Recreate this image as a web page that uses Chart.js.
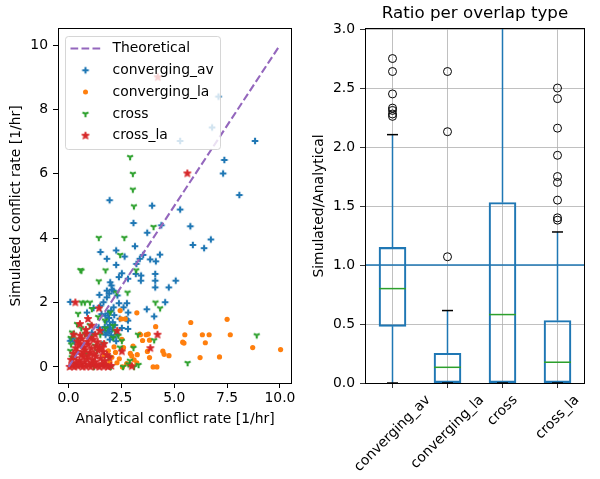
<!DOCTYPE html>
<html>
<head>
<meta charset="utf-8">
<script src="https://cdn.jsdelivr.net/npm/chart.js@4/dist/chart.umd.min.js"></script>
<style>
html, body { margin: 0; padding: 0; background: #fff; }
.panel { position: absolute; top: 0; width: 300px; height: 479px; }
#left { left: 0; }
#right { left: 300px; }
</style>
</head>
<body>
<div class="panel" id="left"><canvas id="scatterChart" width="300" height="479"></canvas></div>
<div class="panel" id="right"><canvas id="boxChart" width="300" height="479"></canvas></div>
<script>
// --- scatter data: [analytical, simulated] per overlap type ---
const theoretical = [[0, 0], [10, 10]];

const convergingAv = [
  [7.09, 8.40], [6.79, 7.44], [5.28, 7.02], [8.82, 7.02], [7.37, 6.43], [7.31, 6.01], [8.08, 5.34],
  [1.94, 5.18], [3.95, 5.01], [5.28, 4.89], [3.07, 4.47], [4.39, 4.40], [5.76, 4.37], [3.72, 4.17],
  [6.73, 3.96], [5.88, 3.79], [6.41, 3.69], [1.51, 3.57], [1.81, 3.36], [2.25, 3.62], [2.25, 3.17],
  [2.65, 3.43], [3.14, 3.75], [3.37, 3.36], [3.53, 3.48], [3.21, 3.20], [3.86, 3.34], [4.13, 3.28],
  [4.32, 3.49], [2.52, 2.91], [3.18, 2.89], [3.43, 2.84], [4.10, 2.89], [4.10, 2.68], [3.42, 2.68],
  [4.10, 2.47], [4.74, 2.47], [5.07, 2.68], [2.81, 2.74], [2.38, 2.79], [1.97, 2.63], [2.03, 2.53],
  [1.81, 2.37], [2.13, 2.37], [1.46, 2.24], [1.81, 2.16], [2.31, 2.22], [2.38, 1.98], [2.76, 1.98],
  [2.60, 1.85], [2.13, 1.85], [1.65, 2.01], [4.57, 2.01], [3.70, 1.79], [4.05, 1.57], [2.81, 1.44],
  [2.81, 1.18], [0.08, 2.02], [0.87, 1.69], [1.18, 1.83], [1.50, 1.90], [1.92, 2.28], [2.05, 2.40],
  [1.75, 1.00], [1.80, 1.06], [1.86, 1.21], [1.92, 1.10], [1.96, 1.31], [2.01, 0.98], [2.06, 1.16],
  [1.79, 1.41], [1.91, 1.52], [2.09, 1.39], [2.19, 1.30], [1.71, 1.24], [1.60, 1.12], [2.31, 1.01],
  [1.86, 1.66], [2.01, 1.75], [1.74, 1.59], [2.16, 1.61], [2.42, 1.50], [2.52, 1.21], [0.08, 0.81],
  [1.42, 1.23], [1.10, 1.07], [1.56, 1.64], [2.82, 1.69], [2.74, 1.49], [0.15, 0.88], [0.28, 0.78],
  [1.95, 0.85], [2.12, 0.92], [1.60, 0.70], [2.25, 0.80]
];

const convergingLa = [
  [3.23, 1.68], [5.78, 1.38], [7.50, 1.48], [5.50, 1.00], [6.33, 1.00], [6.65, 1.00], [7.65, 1.00],
  [5.40, 0.77], [5.46, 0.74], [6.47, 0.75], [8.71, 0.60], [10.03, 0.54], [7.14, 0.31], [6.22, 0.29],
  [4.46, 0.49], [4.52, 0.39], [4.75, 0.35], [4.00, 0.00], [4.18, 0.00], [4.12, 1.25], [3.40, 1.00],
  [3.67, 1.00], [3.50, 0.82], [3.83, 0.83], [3.73, 0.48], [3.83, 0.29], [2.68, 1.49], [2.48, 1.49],
  [2.44, 1.75], [2.52, 0.86], [2.99, 0.34], [2.92, 0.42], [3.23, 0.13], [2.29, 0.13], [2.22, 0.45],
  [3.37, 1.02], [3.77, 1.02], [2.96, 0.05], [3.10, 0.22], [3.25, 0.38], [1.88, 0.50], [2.05, 0.30],
  [2.60, 0.60], [2.75, 0.10], [2.55, 0.00], [1.70, 0.35], [2.15, 0.62], [3.05, 0.65], [1.95, 0.15],
  [2.40, 0.25]
];

const cross = [
  [2.91, 6.52], [3.04, 6.00], [3.04, 5.51], [3.09, 4.99], [4.02, 4.35], [1.43, 4.01], [2.64, 4.01],
  [2.44, 3.48], [0.56, 3.01], [0.61, 2.99], [1.75, 3.00], [3.20, 3.00], [1.43, 2.66], [2.79, 2.31],
  [2.27, 2.31], [0.61, 2.00], [0.77, 2.00], [1.01, 2.00], [4.11, 2.00], [4.33, 1.82], [4.05, 0.83],
  [3.28, 1.00], [3.07, 0.59], [5.63, 0.12], [8.90, 0.98], [3.10, 0.00], [0.45, 1.65], [0.40, 1.33],
  [1.97, 1.69], [1.72, 1.44], [2.11, 1.28], [0.16, 1.07], [0.10, 0.90], [0.12, 0.70], [0.08, 0.50],
  [0.15, 0.30], [0.25, 1.00], [0.45, 0.85], [0.77, 1.02], [1.09, 0.97], [1.25, 0.66], [2.11, 0.91],
  [2.43, 0.60], [2.52, 0.81], [2.36, 0.97], [2.58, 0.00], [2.90, 0.19], [2.83, 0.08], [3.31, 0.06],
  [1.10, 1.80], [1.50, 1.00], [1.35, 0.50], [1.90, 0.30], [1.65, 0.72], [1.00, 1.30], [0.60, 1.20],
  [1.20, 0.00], [2.00, 0.00], [1.40, 1.55], [0.30, 0.10], [1.75, 1.20], [2.20, 1.10], [0.85, 0.40]
];

const crossLa = [
  [4.22, 9.00], [5.62, 6.01], [0.32, 2.00], [1.44, 1.82], [4.21, 1.00], [3.87, 0.58], [2.99, 0.02],
  [2.52, 0.48], [2.30, 1.12], [0.92, 1.49], [0.82, 1.15], [0.55, 0.97], [0.54, 1.33], [1.09, 1.28],
  [1.48, 1.12], [0.85, 1.02], [0.54, 0.71], [1.01, 0.91],
  [0.05, 0.00], [0.18, 0.04], [0.27, 0.00], [0.36, 0.12], [0.44, 0.02], [0.57, 0.06], [0.66, 0.00],
  [0.74, 0.14], [0.83, 0.01], [0.96, 0.07], [1.04, 0.00], [1.16, 0.11], [1.27, 0.02], [1.33, 0.06],
  [1.46, 0.00], [1.58, 0.09], [1.66, 0.01], [1.77, 0.05], [1.86, 0.00], [2.02, 0.03],
  [0.12, 0.22], [0.31, 0.27], [0.52, 0.19], [0.69, 0.31], [0.88, 0.24], [1.12, 0.21], [1.29, 0.33],
  [1.52, 0.26], [1.71, 0.18], [1.93, 0.29],
  [0.22, 0.41], [0.42, 0.47], [0.61, 0.38], [0.79, 0.52], [1.02, 0.44], [1.21, 0.39], [1.39, 0.51],
  [1.63, 0.46], [1.82, 0.37],
  [0.33, 0.58], [0.49, 0.66], [0.72, 0.61], [0.93, 0.69], [1.08, 0.57], [1.31, 0.64], [1.47, 0.59],
  [1.68, 0.71], [0.41, 0.79], [0.63, 0.86], [0.89, 0.78], [1.17, 0.84], [1.38, 0.77], [0.24, 1.00],
  [1.26, 1.00], [0.70, 0.45], [0.95, 0.35], [1.25, 0.15], [0.50, 0.10], [1.60, 0.60]
];

const scatterXTicks = [0, 2.5, 5, 7.5, 10];
const scatterYTicks = [0, 2, 4, 6, 8, 10];

// --- boxplot data: simulated/analytical ratio ---
const boxLabels = ['converging_av', 'converging_la', 'cross', 'cross_la'];
const boxLow = [0, 0, 0, 0];
const boxQ1 = [0.48, 0, 0, 0];
const boxMedian = [0.80, 0.133, 0.58, 0.176];
const boxQ3 = [1.15, 0.252, 1.53, 0.53];
const boxHigh = [2.105, 0.614, 3.7, 1.28];
const boxOutliers = [
  [2.26, 2.28, 2.31, 2.33, 2.45, 2.64, 2.75],
  [1.07, 2.13, 2.64],
  [],
  [1.38, 1.40, 1.55, 1.70, 1.75, 1.93, 2.16, 2.41, 2.50]
];
const ratioTicks = [0, 0.5, 1, 1.5, 2, 2.5, 3];
const refRatio = 1.0;

const FONT = '"DejaVu Sans"';
Chart.defaults.font.family = FONT;
Chart.defaults.font.size = 13.9;
Chart.defaults.color = '#000';

const toXY = arr => arr.map(p => ({ x: p[0], y: p[1] }));

// markers die Chart.js niet heeft
function makeMarker(size, draw) {
  const c = document.createElement('canvas');
  c.width = size; c.height = size;
  const g = c.getContext('2d');
  g.translate(size / 2, size / 2);
  draw(g);
  return c;
}
const plusMarker = makeMarker(10, g => {
  g.strokeStyle = '#1f77b4'; g.lineWidth = 2.1;
  g.beginPath();
  g.moveTo(-3.3, 0); g.lineTo(3.3, 0);
  g.moveTo(0, -3.3); g.lineTo(0, 3.3);
  g.stroke();
});
const triMarker = makeMarker(10, g => {
  g.strokeStyle = '#2ca02c'; g.lineWidth = 2.1;
  g.beginPath();
  g.moveTo(0, 0); g.lineTo(0, 3.3);
  g.moveTo(0, 0); g.lineTo(-2.9, -1.7);
  g.moveTo(0, 0); g.lineTo(2.9, -1.7);
  g.stroke();
});
const starMarker = makeMarker(12, g => {
  g.fillStyle = '#d62728'; g.strokeStyle = '#d62728'; g.lineWidth = 1;
  g.beginPath();
  for (let k = 0; k < 10; k++) {
    const r = k % 2 ? 1.7 : 4;
    const a = -Math.PI / 2 + k * Math.PI / 5;
    g.lineTo(r * Math.cos(a), r * Math.sin(a));
  }
  g.closePath(); g.fill(); g.stroke();
});

// zwart kader rond het plotgebied
const frame = {
  id: 'frame',
  afterDraw(chart) {
    const { ctx, chartArea: a } = chart;
    ctx.save();
    ctx.strokeStyle = '#000';
    ctx.lineWidth = 1;
    const l = Math.round(a.left) + 0.5, t = Math.round(a.top) - 0.5;
    const r = Math.round(a.right) - 0.5, b = Math.round(a.bottom) + 0.5;
    ctx.strokeRect(l, t, r - l, b - t);
    ctx.restore();
  }
};

// legenda zoals matplotlib (linksboven, half doorzichtig)
const scatterLegend = {
  id: 'scatterLegend',
  afterDatasetsDraw(chart) {
    const { ctx, chartArea: a } = chart;
    const left = a.left + 7.5, top = a.top + 7.5, w = 155, h = 113;
    ctx.save();
    ctx.beginPath();
    ctx.roundRect(left, top, w, h, 3);
    ctx.fillStyle = 'rgba(255,255,255,0.8)';
    ctx.fill();
    ctx.strokeStyle = 'rgba(204,204,204,0.8)';
    ctx.lineWidth = 1;
    ctx.stroke();
    const items = [
      { label: 'Theoretical', kind: 'line' },
      { label: 'converging_av', img: plusMarker },
      { label: 'converging_la', kind: 'dot' },
      { label: 'cross', img: triMarker },
      { label: 'cross_la', img: starMarker }
    ];
    ctx.font = '13.9px ' + FONT;
    ctx.textBaseline = 'middle';
    ctx.textAlign = 'left';
    items.forEach((it, i) => {
      const y = top + 12 + i * 21.8;
      const mx = left + 20;
      if (it.kind === 'line') {
        ctx.strokeStyle = '#9467bd'; ctx.lineWidth = 2.1;
        ctx.setLineDash([7.7, 3.3]);
        ctx.beginPath(); ctx.moveTo(left + 5, y); ctx.lineTo(left + 35, y); ctx.stroke();
        ctx.setLineDash([]);
      } else if (it.kind === 'dot') {
        ctx.fillStyle = '#ff7f0e';
        ctx.beginPath(); ctx.arc(mx, y, 2.5, 0, Math.PI * 2); ctx.fill();
      } else {
        ctx.drawImage(it.img, mx - it.img.width / 2, y - it.img.height / 2);
      }
      ctx.fillStyle = '#000';
      ctx.fillText(it.label, left + 47, y);
    });
    ctx.restore();
  }
};

new Chart(document.getElementById('scatterChart'), {
  type: 'scatter',
  data: {
    datasets: [
      { type: 'line', label: 'Theoretical', data: toXY(theoretical), borderColor: '#9467bd',
        borderWidth: 2.1, borderDash: [7.7, 3.3], pointRadius: 0, order: 0 },
      { label: 'cross_la', data: toXY(crossLa), pointStyle: starMarker, pointRadius: 4, order: 1 },
      { label: 'cross', data: toXY(cross), pointStyle: triMarker, pointRadius: 4, order: 2 },
      { label: 'converging_la', data: toXY(convergingLa), pointStyle: 'circle', pointRadius: 2.6,
        pointBackgroundColor: '#ff7f0e', pointBorderWidth: 0, order: 3 },
      { label: 'converging_av', data: toXY(convergingAv), pointStyle: plusMarker, pointRadius: 4, order: 4 }
    ]
  },
  options: {
    responsive: false,
    animation: false,
    events: [],
    devicePixelRatio: 1,
    layout: { padding: { left: 0, right: 8, top: 29, bottom: 0 } },
    plugins: { legend: { display: false }, tooltip: { enabled: false } },
    scales: {
      x: {
        type: 'linear', min: -0.5, max: 10.57,
        afterFit: s => { s.height = 96; },
        afterBuildTicks: s => { s.ticks = scatterXTicks.map(v => ({ value: v })); },
        ticks: { callback: v => v.toFixed(1), padding: 2, autoSkip: false, maxRotation: 0 },
        grid: { drawOnChartArea: false, tickLength: 5, color: '#000' },
        border: { display: false },
        title: { display: true, text: 'Analytical conflict rate [1/hr]', padding: { top: 0, bottom: 51.7 } }
      },
      y: {
        type: 'linear', min: -0.5, max: 10.5,
        afterFit: s => { s.width = 58; },
        afterBuildTicks: s => { s.ticks = scatterYTicks.map(v => ({ value: v })); },
        ticks: { callback: v => String(v), padding: 5, autoSkip: false },
        grid: { drawOnChartArea: false, tickLength: 5, color: '#000' },
        border: { display: false },
        title: { display: true, text: 'Simulated conflict rate [1/hr]', padding: { top: 7.7, bottom: 0 } }
      }
    }
  },
  plugins: [scatterLegend, frame]
});

// schuine categorie-labels, gecentreerd zoals matplotlib
const rotatedLabels = {
  id: 'rotatedLabels',
  afterDraw(chart) {
    const { ctx, chartArea: a, scales } = chart;
    ctx.save();
    ctx.font = '13.9px ' + FONT;
    ctx.fillStyle = '#000';
    ctx.textAlign = 'center';
    ctx.textBaseline = 'middle';
    boxLabels.forEach((lab, i) => {
      const x = scales.x.getPixelForValue(i + 1);
      const w = ctx.measureText(lab).width;
      const side = (w + 14.5) * Math.SQRT1_2;
      const y = a.bottom + 9.8 + side / 2;
      ctx.save();
      ctx.translate(x, y);
      ctx.rotate(-Math.PI / 4);
      ctx.fillText(lab, 0, 0);
      ctx.restore();
    });
    ctx.restore();
  }
};

const pos = boxLabels.map((_, i) => i + 1);
const whiskerPts = [];
pos.forEach((p, i) => {
  whiskerPts.push({ x: p, y: boxLow[i] }, { x: p, y: boxQ1[i] }, { x: p, y: null },
                  { x: p, y: boxQ3[i] }, { x: p, y: boxHigh[i] }, { x: p, y: null });
});
const capPts = [];
pos.forEach((p, i) => { capPts.push({ x: p, y: boxLow[i] }, { x: p, y: boxHigh[i] }); });
const flierPts = [];
pos.forEach((p, i) => boxOutliers[i].forEach(v => flierPts.push({ x: p, y: v })));

new Chart(document.getElementById('boxChart'), {
  type: 'scatter',
  data: {
    datasets: [
      { type: 'line', data: [{ x: 0.5, y: refRatio }, { x: 4.5, y: refRatio }], borderColor: '#1f77b4',
        borderWidth: 1.6, pointRadius: 0, order: 0 },
      { data: flierPts, pointStyle: 'circle', pointRadius: 4, pointBorderColor: '#000',
        pointBorderWidth: 1, pointBackgroundColor: 'rgba(0,0,0,0)', order: 1 },
      { data: capPts, pointStyle: 'line', pointRadius: 5.5, pointBorderColor: '#000',
        pointBorderWidth: 1.5, order: 2 },
      { data: pos.map((p, i) => ({ x: p, y: boxMedian[i] })), pointStyle: 'line', pointRadius: 13.5,
        pointBorderColor: '#2ca02c', pointBorderWidth: 1.5, order: 3 },
      { type: 'line', data: whiskerPts, borderColor: '#1f77b4', borderWidth: 1.5, pointRadius: 0,
        spanGaps: false, order: 4 },
      { type: 'bar', data: pos.map((p, i) => ({ x: p, y: [boxQ1[i], boxQ3[i]] })), borderColor: '#1f77b4',
        borderWidth: 1.5, backgroundColor: 'rgba(0,0,0,0)', borderSkipped: false, barThickness: 27, order: 5 }
    ]
  },
  options: {
    responsive: false,
    animation: false,
    events: [],
    devicePixelRatio: 1,
    layout: { padding: { left: 0, right: 1, top: 0, bottom: 0 } },
    plugins: {
      legend: { display: false },
      tooltip: { enabled: false },
      title: { display: true, text: 'Ratio per overlap type', fullSize: false, color: '#000',
               font: { size: 16.7, weight: 'normal' }, padding: { top: 3.5, bottom: 5.5 } }
    },
    scales: {
      x: {
        type: 'linear', min: 0.5, max: 4.5, offset: false,
        afterFit: s => { s.height = 96; },
        afterBuildTicks: s => { s.ticks = pos.map(v => ({ value: v })); },
        ticks: { display: false },
        grid: { color: '#b0b0b0', lineWidth: 0.8, tickLength: 5, tickColor: '#000', offset: false },
        border: { display: false }
      },
      y: {
        type: 'linear', min: 0, max: 3,
        afterFit: s => { s.width = 65; },
        afterBuildTicks: s => { s.ticks = ratioTicks.map(v => ({ value: v })); },
        ticks: { callback: v => v.toFixed(1), padding: 5, autoSkip: false },
        grid: { color: '#b0b0b0', lineWidth: 0.8, tickLength: 5, tickColor: '#000' },
        border: { display: false },
        title: { display: true, text: 'Simulated/Analytical', padding: { top: 10.7, bottom: 0 } }
      }
    }
  },
  plugins: [rotatedLabels, frame]
});
</script>
</body>
</html>
